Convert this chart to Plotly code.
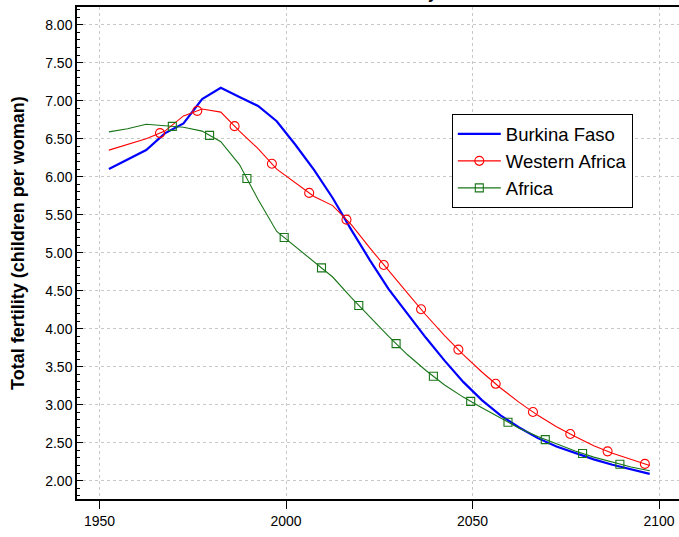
import numpy as np
import plotly.graph_objects as go

# ---- data ----
years = [1952.5 + 5 * i for i in range(30)]

burkina_faso = [6.10, 6.23, 6.35, 6.57, 6.70, 7.02, 7.17, 7.05, 6.93, 6.73,
                6.42, 6.09, 5.72, 5.30, 4.90, 4.52, 4.20, 3.88, 3.58, 3.30,
                3.06, 2.86, 2.70, 2.56, 2.45, 2.36, 2.28, 2.21, 2.15, 2.09]

western_africa = [6.35, 6.42, 6.50, 6.60, 6.80, 6.89, 6.85, 6.60, 6.37, 6.10,
                  5.92, 5.74, 5.62, 5.37, 5.06, 4.76, 4.47, 4.18, 3.91, 3.66,
                  3.43, 3.22, 3.03, 2.86, 2.71, 2.58, 2.46, 2.36, 2.28, 2.20]

africa = [6.59, 6.63, 6.69, 6.67, 6.65, 6.60, 6.46, 6.16, 5.70, 5.28,
          5.08, 4.88, 4.68, 4.41, 4.15, 3.90, 3.66, 3.45, 3.26, 3.10,
          2.96, 2.82, 2.69, 2.58, 2.48, 2.39, 2.31, 2.24, 2.18, 2.13]

# marker placement years (markers are spaced along the lines, not on vertices)
western_marker_years = [1966.2 + 10 * i for i in range(14)]
africa_marker_years = [1969.5 + 10 * i for i in range(13)]

x_tick_vals = [1950, 2000, 2050, 2100]
x_tick_text = ["1950", "2000", "2050", "2100"]
y_tick_vals = [2.0, 2.5, 3.0, 3.5, 4.0, 4.5, 5.0, 5.5, 6.0, 6.5, 7.0, 7.5, 8.0]
y_tick_text = ["%.2f" % v for v in y_tick_vals]

names = ["Burkina Faso", "Western Africa", "Africa"]
title_text = "Burkina Faso: Total fertility"
y_title = "Total fertility (children per woman)"

BLUE = "#0000ff"
RED = "#ff0000"
GREEN = "#187518"

fig = go.Figure()

# lines
fig.add_trace(go.Scatter(x=years, y=burkina_faso, mode="lines",
                         line=dict(color=BLUE, width=2.2), showlegend=False,
                         hoverinfo="skip"))
fig.add_trace(go.Scatter(x=years, y=western_africa, mode="lines",
                         line=dict(color=RED, width=1.1), showlegend=False,
                         hoverinfo="skip"))
fig.add_trace(go.Scatter(x=years, y=africa, mode="lines",
                         line=dict(color=GREEN, width=1.1), showlegend=False,
                         hoverinfo="skip"))

# markers positioned along the lines
fig.add_trace(go.Scatter(x=western_marker_years,
                         y=np.interp(western_marker_years, years, western_africa),
                         mode="markers",
                         marker=dict(symbol="circle-open", size=9, color=RED,
                                     line=dict(width=1.1, color=RED)),
                         showlegend=False, hoverinfo="skip"))
fig.add_trace(go.Scatter(x=africa_marker_years,
                         y=np.interp(africa_marker_years, years, africa),
                         mode="markers",
                         marker=dict(symbol="square-open", size=8, color=GREEN,
                                     line=dict(width=1.1, color=GREEN)),
                         showlegend=False, hoverinfo="skip"))

# legend entries
fig.add_trace(go.Scatter(x=[None], y=[None], mode="lines", name=names[0],
                         line=dict(color=BLUE, width=2.2)))
fig.add_trace(go.Scatter(x=[None], y=[None], mode="lines+markers", name=names[1],
                         line=dict(color=RED, width=1.1),
                         marker=dict(symbol="circle-open", size=9, color=RED,
                                     line=dict(width=1.1, color=RED))))
fig.add_trace(go.Scatter(x=[None], y=[None], mode="lines+markers", name=names[2],
                         line=dict(color=GREEN, width=1.1),
                         marker=dict(symbol="square-open", size=8, color=GREEN,
                                     line=dict(width=1.1, color=GREEN))))

FONT = "Liberation Sans, Arial, sans-serif"

fig.update_layout(
    width=679, height=537,
    margin=dict(l=77, r=0, t=7, b=38, autoexpand=False),
    paper_bgcolor="white", plot_bgcolor="white",
    font=dict(family=FONT, size=14, color="black"),
    xaxis=dict(range=[1943.95, 2105.35], tickvals=x_tick_vals, ticktext=x_tick_text,
               showgrid=True, gridcolor="#c8c8c8", griddash="dot", gridwidth=1,
               showline=True, linecolor="black", linewidth=1.5, mirror=True,
               ticks="outside", ticklen=8, tickwidth=1, tickcolor="black",
               zeroline=False, tickfont=dict(size=14, color="black")),
    yaxis=dict(range=[1.759, 8.233], tickvals=y_tick_vals, ticktext=y_tick_text,
               showgrid=True, gridcolor="#c8c8c8", griddash="dot", gridwidth=1,
               showline=True, linecolor="black", linewidth=1.5,
               ticks="inside", ticklen=6, tickwidth=1, tickcolor="black",
               minor=dict(dtick=0.1, tick0=0, ticks="inside", ticklen=3,
                          tickcolor="black", showgrid=False),
               zeroline=False, tickfont=dict(size=14, color="black")),
    legend=dict(x=0.6226, y=0.782, xanchor="left", yanchor="top",
                bgcolor="white", bordercolor="black", borderwidth=1,
                font=dict(family=FONT, size=18.5, color="black"),
                itemwidth=43, tracegroupgap=0),
    annotations=[
        dict(text="<b>%s</b>" % y_title, xref="paper", yref="paper",
             x=-0.0991, y=0.521, xanchor="center", yanchor="middle",
             textangle=-90, showarrow=False,
             font=dict(family=FONT, size=18, color="black")),
        dict(text="<b>%s</b>" % title_text, xref="paper", yref="paper",
             x=0.602, y=1.0061, xanchor="right", yanchor="bottom",
             showarrow=False, font=dict(family=FONT, size=16, color="black")),
    ],
)

fig.write_html("out.html",
               config={"displayModeBar": False},
               post_script="document.body.style.margin='0';"
                           "document.body.style.overflow='hidden';")
